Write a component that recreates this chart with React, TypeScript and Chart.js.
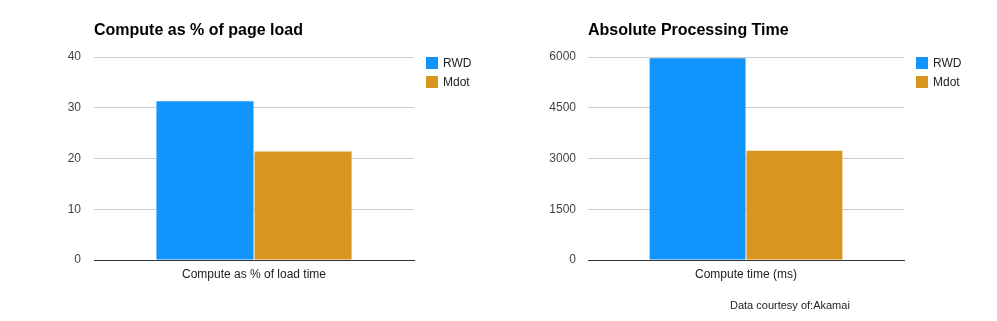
import React, { useEffect, useRef } from "react";
import { Chart, registerables } from "chart.js";

Chart.register(...registerables);

const seriesNames = ["RWD", "Mdot"];
const seriesColors = ["#1195fd", "#d8961f"];

const leftCategories = ["Compute as % of load time"];
const leftRWD = [31.3];
const leftMdot = [21.4];
const leftTicks = [0, 10, 20, 30, 40];

const rightCategories = ["Compute time (ms)"];
const rightRWD = [5960];
const rightMdot = [3230];
const rightTicks = [0, 1500, 3000, 4500, 6000];

const FONT = "'Liberation Sans', Arial, sans-serif";

type Spec = {
  title: string;
  categories: string[];
  rwd: number[];
  mdot: number[];
  ticks: number[];
  yWidth: number;
  plotWidth: number;
  tickPad: number;
  legendX: number;
  footnote?: string;
};

function makeConfig(spec: Spec): any {
  const overlay = {
    id: "overlay",
    afterDraw(chart: any) {
      const ctx = chart.ctx;
      const area = chart.chartArea;
      ctx.save();
      ctx.textBaseline = "middle";
      ctx.textAlign = "left";
      ctx.fillStyle = "#000";
      ctx.font = `bold 16px ${FONT}`;
      ctx.fillText(spec.title, area.left, 31);
      ctx.font = `12px ${FONT}`;
      seriesNames.forEach((n, i) => {
        const y = 57 + i * 19;
        ctx.fillStyle = seriesColors[i];
        ctx.fillRect(spec.legendX, y, 12, 12);
        ctx.fillStyle = "#222";
        ctx.fillText(n, spec.legendX + 17, y + 6.5);
      });
      if (spec.footnote) {
        ctx.font = `11px ${FONT}`;
        ctx.fillStyle = "#222";
        ctx.fillText(spec.footnote, 233, 306);
      }
      ctx.restore();
    },
  };
  const max = spec.ticks[spec.ticks.length - 1];
  const step = spec.ticks[1] - spec.ticks[0];
  return {
    type: "bar",
    data: {
      labels: spec.categories,
      datasets: [
        { label: seriesNames[0], data: spec.rwd, backgroundColor: seriesColors[0], borderWidth: 0 },
        { label: seriesNames[1], data: spec.mdot, backgroundColor: seriesColors[1], borderWidth: 0 },
      ],
    },
    options: {
      animation: false,
      responsive: false,
      maintainAspectRatio: false,
      layout: { padding: { left: 0, right: 497 - spec.yWidth - spec.plotWidth, top: 57, bottom: 21 } },
      plugins: { legend: { display: false }, tooltip: { enabled: false }, title: { display: false } },
      datasets: { bar: { categoryPercentage: 0.613, barPercentage: 0.99 } },
      scales: {
        x: {
          grid: { display: false, drawTicks: false },
          border: { display: true, color: "#333", width: 1 },
          ticks: { color: "#222", font: { family: FONT, size: 12 }, padding: 7 },
          afterFit(scale: any) {
            scale.height = 40;
          },
        },
        y: {
          min: 0,
          max,
          grid: {
            drawTicks: false,
            color: (c: any) => (c.tick && c.tick.value === 0 ? "rgba(0,0,0,0)" : "#cccccc"),
          },
          border: { display: false },
          ticks: {
            stepSize: step,
            color: "#444",
            font: { family: FONT, size: 12 },
            padding: spec.tickPad,
            callback: (v: any) => String(v),
          },
          afterFit(scale: any) {
            scale.width = spec.yWidth;
          },
        },
      },
    },
    plugins: [overlay],
  };
}

function ChartBox({ spec, left }: { spec: Spec; left: number }) {
  const ref = useRef<HTMLCanvasElement>(null);
  useEffect(() => {
    const chart = new Chart(ref.current as HTMLCanvasElement, makeConfig(spec));
    return () => chart.destroy();
  }, []);
  return (
    <div style={{ position: "absolute", left, top: 0, width: 497, height: 321 }}>
      <canvas ref={ref} width={497} height={321} style={{ width: 497, height: 321 }} />
    </div>
  );
}

export default function App() {
  const leftSpec: Spec = {
    title: "Compute as % of page load",
    categories: leftCategories,
    rwd: leftRWD,
    mdot: leftMdot,
    ticks: leftTicks,
    yWidth: 94,
    plotWidth: 320,
    tickPad: 13,
    legendX: 426,
  };
  const rightSpec: Spec = {
    title: "Absolute Processing Time",
    categories: rightCategories,
    rwd: rightRWD,
    mdot: rightMdot,
    ticks: rightTicks,
    yWidth: 91,
    plotWidth: 316,
    tickPad: 12,
    legendX: 419,
    footnote: "Data courtesy of:Akamai",
  };
  return (
    <div style={{ position: "absolute", left: 0, top: 0, width: 997, height: 321, background: "#fff" }}>
      <ChartBox spec={leftSpec} left={0} />
      <ChartBox spec={rightSpec} left={497} />
    </div>
  );
}
